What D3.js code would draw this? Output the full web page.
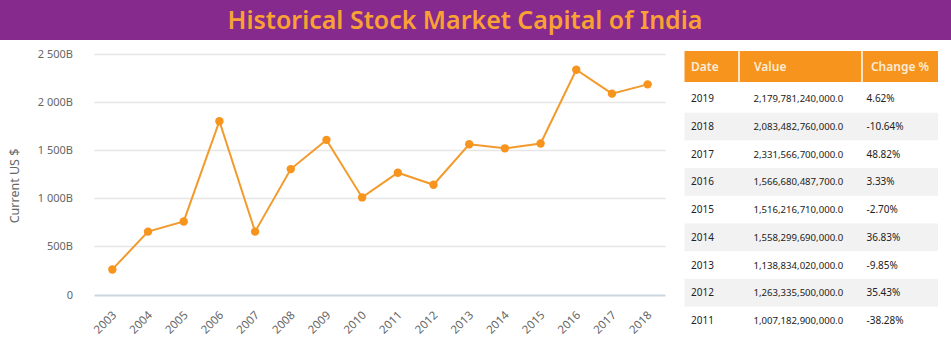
<!DOCTYPE html>
<html><head><meta charset="utf-8">
<script src="https://cdn.jsdelivr.net/npm/d3@7"></script>
<style>
html,body{margin:0;padding:0;background:#fff;}
svg{display:block;font-family:"Noto Sans","Open Sans",sans-serif;}
</style></head>
<body>
<svg id="c" width="951" height="339"></svg>
<script>
const title = "Historical Stock Market Capital of India";
const years = ["2003","2004","2005","2006","2007","2008","2009","2010","2011","2012","2013","2014","2015","2016","2017","2018"];
const values = [260, 652, 758, 1798, 652, 1301, 1604, 1007.18, 1263.34, 1138.83, 1558.30, 1516.22, 1566.68, 2331.57, 2083.48, 2179.78];
const yTicks = [0, 500, 1000, 1500, 2000, 2500];
const yTickLabels = ["0", "500B", "1 000B", "1 500B", "2 000B", "2 500B"];
const yTitle = "Current US $";

const tableHeaders = ["Date", "Value", "Change %"];
const tableYears = ["2019","2018","2017","2016","2015","2014","2013","2012","2011"];
const tableValues = ["2,179,781,240,000.0","2,083,482,760,000.0","2,331,566,700,000.0","1,566,680,487,700.0","1,516,216,710,000.0","1,558,299,690,000.0","1,138,834,020,000.0","1,263,335,500,000.0","1,007,182,900,000.0"];
const tableChanges = ["4.62%","-10.64%","48.82%","3.33%","-2.70%","36.83%","-9.85%","35.43%","-38.28%"];

const svg = d3.select("#c");
const orange = "#f7941d";

// banner
svg.append("rect").attr("x",0).attr("y",0).attr("width",951).attr("height",40).attr("fill","#862a8e");
const t = svg.append("text").attr("x",465).attr("y",29).attr("text-anchor","middle")
  .attr("fill","#f9a233").attr("font-weight",600).attr("font-size",24).text(title);
const tw = t.node().getComputedTextLength();
t.attr("font-size", 24*475/tw);

// chart
const x = d3.scaleBand().domain(years).range([94.5, 665.5]);
const y = d3.scaleLinear().domain([0, 2500]).range([294.5, 53.5]);

const grid = svg.append("g");
grid.selectAll("line").data(yTicks).join("line")
  .attr("x1",94.5).attr("x2",665.5)
  .attr("y1",d=>Math.round(y(d))+0.5).attr("y2",d=>Math.round(y(d))+0.5)
  .attr("stroke",d=>d===0?"#ccd6e0":"#e6e6e6").attr("stroke-width",d=>d===0?2:1.5);

const yAxis = d3.axisLeft(y).tickValues(yTicks).tickFormat((d,i)=>yTickLabels[i]).tickSize(0).tickPadding(0);
const ya = svg.append("g").attr("transform","translate(73,0)").call(yAxis);
ya.select(".domain").remove();
ya.selectAll("text").attr("fill","#666").attr("font-size",11).attr("font-family","Noto Sans, sans-serif");

svg.append("text").attr("transform","translate(19,186) rotate(-90)").attr("text-anchor","middle")
  .attr("fill","#666").attr("font-size",12.5).text(yTitle);

const xAxis = d3.axisBottom(x).tickSize(0).tickPadding(0);
const xa = svg.append("g").call(xAxis);
xa.select(".domain").remove();
xa.selectAll(".tick").attr("transform", d => `translate(${x(d)+x.bandwidth()/2+2},313)`);
xa.selectAll("text").attr("y",0).attr("dy","0.35em").attr("transform","rotate(-45)").attr("text-anchor","end")
  .attr("fill","#666").attr("font-size",11.5).attr("font-family","Noto Sans, sans-serif");

const cx = d => x(d) + x.bandwidth()/2;
const line = d3.line().x((d,i)=>cx(years[i])).y(d=>y(d));
svg.append("path").datum(values).attr("d",line).attr("fill","none").attr("stroke","#f39a2c").attr("stroke-width",2);
svg.append("g").selectAll("circle").data(values).join("circle")
  .attr("cx",(d,i)=>cx(years[i])).attr("cy",d=>y(d)).attr("r",4.2).attr("fill",orange);

// table
const tx = 684.5, tw2 = 253.5;
svg.append("rect").attr("x",tx).attr("y",51).attr("width",tw2).attr("height",31).attr("fill",orange);
[739, 862].forEach(v=>svg.append("line").attr("x1",v).attr("x2",v).attr("y1",51).attr("y2",82).attr("stroke","#fff").attr("stroke-width",1.5));
const hx = [691, 754, 900];
const ha = ["start","start","middle"];
svg.append("g").selectAll("text").data(tableHeaders).join("text")
  .attr("x",(d,i)=>hx[i]).attr("y",70.5).attr("text-anchor",(d,i)=>ha[i])
  .attr("fill","#fdecd6").attr("font-weight",600).attr("font-size",12).text(d=>d);

const rowH = 27.7, row0 = 85;
const rows = svg.append("g").selectAll("g").data(tableYears).join("g")
  .attr("transform",(d,i)=>`translate(0,${row0 + i*rowH})`);
rows.filter((d,i)=>i%2===1).append("rect").attr("x",tx).attr("y",0).attr("width",tw2).attr("height",rowH).attr("fill","#f2f2f2");
rows.append("text").attr("x",691).attr("y",rowH/2+3.5).attr("fill","#222").attr("font-size",10).text(d=>d);
rows.append("text").attr("x",753.5).attr("y",rowH/2+3.5).attr("fill","#222").attr("font-size",9.6).text((d,i)=>tableValues[i]);
rows.append("text").attr("x",866.5).attr("y",rowH/2+3.5).attr("fill","#222").attr("font-size",10).text((d,i)=>tableChanges[i]);
</script>
</body></html>
